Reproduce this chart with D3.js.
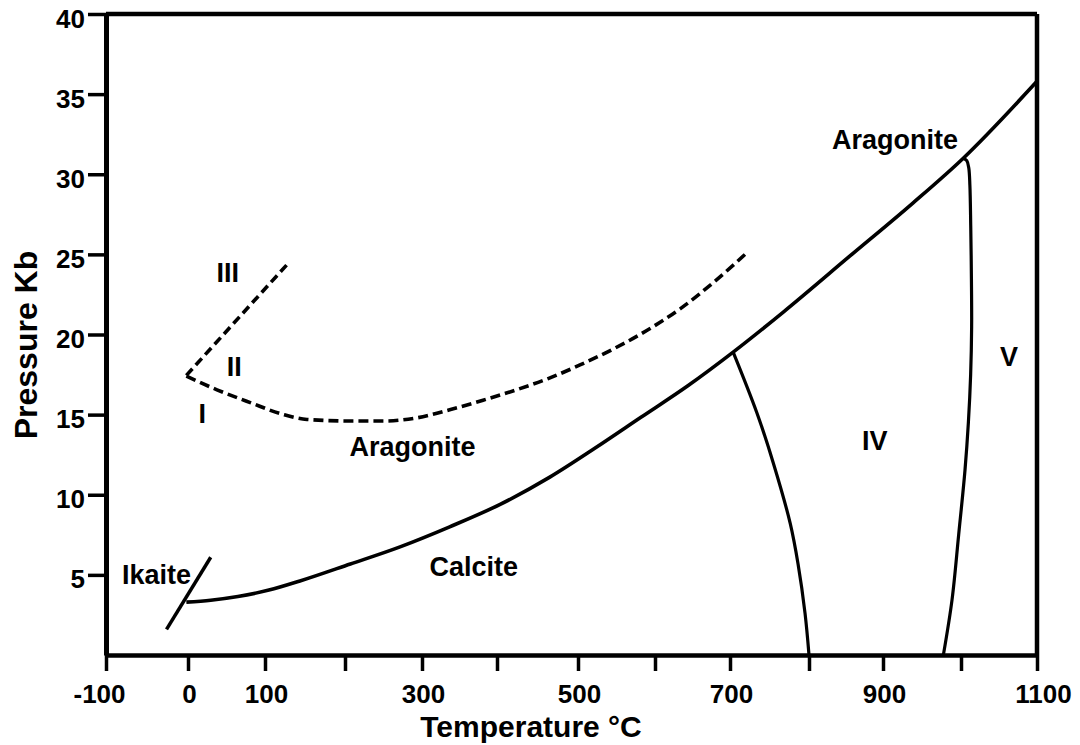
<!DOCTYPE html>
<html>
<head>
<meta charset="utf-8">
<script src="https://cdn.jsdelivr.net/npm/d3@7"></script>
<style>
  html, body { margin: 0; padding: 0; background: #fff; }
  svg text { font-family: "Liberation Sans", Arial, Helvetica, sans-serif; font-weight: bold; fill: #000; }
</style>
</head>
<body>
<svg id="chart" width="1080" height="745"></svg>
<script>
// Axis ticks and labels
const tempTicks = [-100, 0, 100, 200, 300, 400, 500, 600, 700, 800, 900, 1000, 1100];
const tempLabels = [-100, 0, 100, 300, 500, 700, 900, 1100];
const pressTicks = [5, 10, 15, 20, 25, 30, 35, 40];

// Calcite / aragonite boundary (°C, kb)
const calAragT = [-2, 29.5, 64.8, 104.9, 143.7, 207, 271.5, 336.9, 403.9, 465.2, 521.8, 582.2, 643.8, 704, 767.5, 855.4, 938.3, 1003, 1100];
const calAragP = [3.3, 3.42, 3.65, 4.05, 4.62, 5.68, 6.75, 8.0, 9.4, 11.1, 12.9, 14.85, 16.8, 18.9, 21.4, 24.9, 28.2, 31.0, 35.8];

// Calcite IV boundary
const calIVT = [704, 734.1, 754.7, 776.3, 786.1, 795, 800];
const calIVP = [18.9, 15.1, 12.0, 8.2, 5.7, 2.6, 0];

// Calcite V boundary
const calVT = [1003, 1007.6, 1010.2, 1011.7, 1012.8, 1013.7, 1014, 1012.7, 1009.7, 1005.3, 997, 988.5, 977.4];
const calVP = [31.0, 30.85, 30.4, 29.3, 26.8, 23.5, 20.5, 17.5, 14.5, 11.56, 7.5, 3.44, 0];

// Metastable calcite I / II boundary continuing to aragonite (dashed)
const calIIT = [-2, 37.6, 80.9, 123.3, 152.4, 207, 249.3, 293.6, 336.9, 381.4, 424, 463.2, 502.6, 546, 589.3, 633.5, 678, 721.3];
const calIIP = [17.4, 16.55, 15.75, 15.0, 14.7, 14.6, 14.6, 14.8, 15.3, 15.9, 16.55, 17.25, 18.1, 19.1, 20.25, 21.6, 23.25, 25.1];

// Calcite II / III boundary (dashed)
const calIIIT = [-2, 128.2];
const calIIIP = [17.45, 24.4];

// Ikaite boundary
const ikaiteT = [-26.2, 29.5];
const ikaiteP = [1.6, 6.1];

// Field labels
const fieldNames = ["III", "II", "I", "Aragonite", "Calcite", "Ikaite", "IV", "V", "Aragonite"];
const fieldT = [51.7, 60, 18.4, 287.6, 369, -38.5, 889, 1063.3, 915.4];
const fieldP = [23.25, 17.4, 14.45, 12.4, 4.9, 4.45, 12.8, 18.05, 31.6];

// Hand-ruled temperature axis: tick marks are not evenly spaced on the drawing
const tempTickPx = [106, 188, 265, 345, 422, 497, 578, 655, 730, 809, 883, 961, 1037];

const svg = d3.select("#chart");

const x = d3.scaleLinear().domain(tempTicks).range(tempTickPx);
const y = d3.scaleLinear().domain([0, 40]).range([655, 14]);

const zip = (ts, ps) => ts.map((t, i) => [t, ps[i]]);

// Frame: top and right edges
svg.append("line")
  .attr("x1", x(-100)).attr("x2", x(1100))
  .attr("y1", y(40)).attr("y2", y(40))
  .attr("stroke", "#000").attr("stroke-width", 4.5);
svg.append("line")
  .attr("x1", x(1100)).attr("x2", x(1100))
  .attr("y1", y(40)).attr("y2", y(0))
  .attr("stroke", "#000").attr("stroke-width", 4.5);

// Bottom axis
const xAxis = d3.axisBottom(x)
  .tickValues(tempTicks)
  .tickSize(16)
  .tickSizeOuter(0)
  .tickPadding(13.5)
  .tickFormat(d => tempLabels.includes(d) ? String(d) : "");
const gx = svg.append("g")
  .attr("transform", `translate(0,${y(0)})`)
  .call(xAxis);
gx.select(".domain").attr("stroke", "#000").attr("stroke-width", 4.5);
gx.selectAll(".tick line").attr("stroke", "#000").attr("stroke-width", 3.5);
gx.selectAll(".tick text").attr("font-size", 26).attr("fill", "#000")
  .attr("dx", d => d < 0 ? -7 : (d >= 1000 ? 6 : 1))
  .style("font-family", "'Liberation Sans', Arial, sans-serif").style("font-weight", "bold");

// Left axis
const yAxis = d3.axisLeft(y)
  .tickValues(pressTicks)
  .tickSize(18)
  .tickSizeOuter(0)
  .tickPadding(3)
  .tickFormat(d => String(d));
const gy = svg.append("g")
  .attr("transform", `translate(${x(-100)},0)`)
  .call(yAxis);
gy.select(".domain").attr("stroke", "#000").attr("stroke-width", 5);
gy.selectAll(".tick line").attr("stroke", "#000").attr("stroke-width", 3.5);
gy.selectAll(".tick text").attr("font-size", 26).attr("dy", "0.5em").attr("fill", "#000")
  .style("font-family", "'Liberation Sans', Arial, sans-serif").style("font-weight", "bold");

// Axis titles
svg.append("text")
  .attr("x", 531).attr("y", 737)
  .attr("text-anchor", "middle")
  .attr("font-size", 30)
  .text("Temperature °C");
svg.append("text")
  .attr("transform", "translate(37,345) rotate(-90)")
  .attr("text-anchor", "middle")
  .attr("font-size", 32)
  .text("Pressure Kb");

// Phase boundaries
const alongT = d3.line().x(d => x(d[0])).y(d => y(d[1])).curve(d3.curveMonotoneX);
const smooth = d3.line().x(d => x(d[0])).y(d => y(d[1])).curve(d3.curveCatmullRom.alpha(0.5));
const straight = d3.line().x(d => x(d[0])).y(d => y(d[1]));

const plot = svg.append("g").attr("fill", "none").attr("stroke", "#000")
  .attr("stroke-linecap", "butt").attr("stroke-linejoin", "round");

plot.append("path").attr("d", alongT(zip(calAragT, calAragP))).attr("stroke-width", 3.6);
plot.append("path").attr("d", smooth(zip(calIVT, calIVP))).attr("stroke-width", 3.2);
plot.append("path").attr("d", smooth(zip(calVT, calVP))).attr("stroke-width", 3.2);
plot.append("path").attr("d", straight(zip(ikaiteT, ikaiteP))).attr("stroke-width", 3.5);
plot.append("path").attr("d", alongT(zip(calIIT, calIIP)))
  .attr("stroke-width", 3.6).attr("stroke-dasharray", "10,5");
plot.append("path").attr("d", straight(zip(calIIIT, calIIIP)))
  .attr("stroke-width", 3.6).attr("stroke-dasharray", "9,5");

// Field labels
svg.append("g").selectAll("text")
  .data(fieldNames.map((n, i) => ({ n, t: fieldT[i], p: fieldP[i] })))
  .join("text")
  .attr("x", d => x(d.t))
  .attr("y", d => y(d.p))
  .attr("text-anchor", "middle")
  .attr("font-size", 27)
  .text(d => d.n);
</script>
</body>
</html>
